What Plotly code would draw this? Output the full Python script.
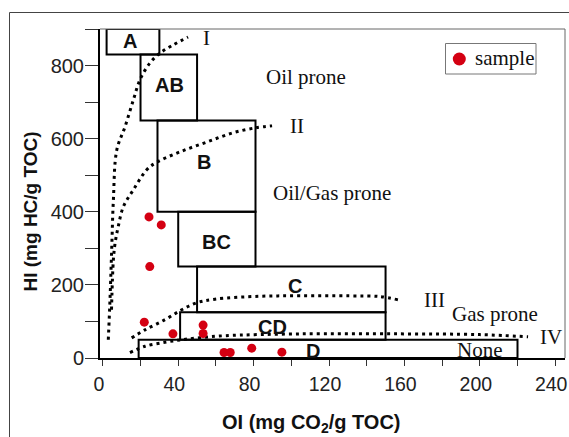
import plotly.graph_objects as go

# ---------------- data ----------------
# Kerogen-type boxes (OI range x0-x1, HI range y0-y1)
box_names = ["A", "AB", "B", "BC", "C", "CD", "D"]
box_x0 = [2, 20, 29, 40, 50, 41, 19]
box_x1 = [30, 50, 81, 81, 150, 150, 220]
box_y0 = [830, 650, 400, 250, 125, 50, 0]
box_y1 = [900, 830, 650, 400, 250, 125, 50]
box_lbl_x = [14.5, 35.5, 53.7, 60.4, 102, 90, 111.7]
box_lbl_y = [867, 747, 535, 316, 196, 86, 18]

# Kerogen evolution curves (dotted)
curve_I_x = [2.9, 3.8, 4.7, 5.6, 7.4, 11.8, 16.2, 19.7, 25, 30.3, 37.2, 45.2]
curve_I_y = [50, 159, 296, 432, 569, 633, 706, 761, 807, 834, 856, 878]
curve_II_x = [4.6, 5.6, 6.5, 8.2, 10.9, 16.2, 23.3, 28.8, 41, 55.3, 69, 81.3, 89.8]
curve_II_y = [132, 269, 314, 360, 414, 460, 515, 536, 564, 591, 616, 630, 635]
curve_III_x = [15.3, 22.4, 33, 41.9, 49.8, 59.5, 83.4, 104.6, 131, 147, 156.6]
curve_III_y = [55, 77, 105, 132, 151, 161, 169, 170, 170, 168, 159]
curve_IV_x = [14.4, 22.4, 33, 41.9, 52.5, 64.8, 104.6, 157.7, 200, 225.6]
curve_IV_y = [15, 32, 43, 50, 56, 61, 66, 66, 64, 58]

# Samples
sample_oi = [24.5, 31, 24.9, 22, 37.2, 53.2, 53.2, 64.3, 67.6, 79, 95]
sample_hi = [386, 364, 250, 98, 66, 90, 67, 15, 15, 27, 16]
legend_name = "sample"

# Text labels
roman_txt = ["I", "II", "III", "IV"]
roman_x = [55, 103, 175.9, 237.6]
roman_y = [875, 635, 159, 57]
zone_txt = ["Oil prone", "Oil/Gas prone", "Gas prone", "None"]
zone_x = [107.8, 121.7, 208, 200]
zone_y = [769, 451, 120, 23]

x_tickvals = list(range(0, 241, 40))
y_tickvals = list(range(0, 801, 200))

# ---------------- figure ----------------
SANS = "Liberation Sans, Arial, sans-serif"
SERIF = "Liberation Serif, Times New Roman, serif"
RED = "#d40012"
W, H = 569, 437
ML, MT, PW, PH = 100, 29, 465, 329


def px_x(p):
    return (p - ML) / PW


def px_y(p):
    return (MT + PH - p) / PH


fig = go.Figure()

for cx, cy in [(curve_I_x, curve_I_y), (curve_II_x, curve_II_y),
               (curve_III_x, curve_III_y), (curve_IV_x, curve_IV_y)]:
    fig.add_trace(go.Scatter(x=cx, y=cy, mode="lines", showlegend=False,
                             line=dict(color="black", width=3, dash="3px,4px", shape="spline"),
                             hoverinfo="skip"))

fig.add_trace(go.Scatter(x=sample_oi, y=sample_hi, mode="markers", name=legend_name,
                         showlegend=False,
                         marker=dict(color=RED, size=9)))

for i, n in enumerate(box_names):
    fig.add_shape(type="rect", xref="x", yref="y",
                  x0=box_x0[i], x1=box_x1[i], y0=box_y0[i], y1=box_y1[i],
                  line=dict(color="black", width=2), fillcolor="rgba(0,0,0,0)")
    fig.add_annotation(x=box_lbl_x[i], y=box_lbl_y[i], text=n, showarrow=False,
                       font=dict(family=SANS, size=20, color="#111", weight="bold"))

for t, x, y in zip(roman_txt, roman_x, roman_y):
    fig.add_annotation(x=x, y=y, text=t, showarrow=False,
                       font=dict(family=SERIF, size=21, color="#111"))
for t, x, y in zip(zone_txt, zone_x, zone_y):
    fig.add_annotation(x=x, y=y, text=t, showarrow=False,
                       font=dict(family=SERIF, size=21, color="#111"))

# axis titles
fig.add_annotation(xref="paper", yref="paper", x=px_x(30), y=px_y(211.5),
                   text="HI (mg HC/g TOC)", textangle=-90, showarrow=False,
                   xanchor="center", yanchor="middle",
                   font=dict(family=SANS, size=19, color="#111", weight="bold"))
fig.add_annotation(xref="paper", yref="paper", x=px_x(311), y=px_y(423),
                   text="OI (mg CO<sub>2</sub>/g TOC)", showarrow=False,
                   xanchor="center", yanchor="middle",
                   font=dict(family=SANS, size=20, color="#111", weight="bold"))

# legend box (drawn manually to match the reference)
fig.add_shape(type="rect", xref="paper", yref="paper",
              x0=px_x(445.5), x1=px_x(536), y0=px_y(74), y1=px_y(43.5),
              line=dict(color="#777", width=1), fillcolor="white")
fig.add_shape(type="circle", xref="paper", yref="paper",
              xsizemode="pixel", ysizemode="pixel",
              xanchor=px_x(459.3), yanchor=px_y(59),
              x0=-6.5, x1=6.5, y0=-6.5, y1=6.5,
              line=dict(color=RED, width=0), fillcolor=RED)
fig.add_annotation(xref="paper", yref="paper", x=px_x(472.5), y=px_y(57.5),
                   text=legend_name, showarrow=False, xanchor="left", yanchor="middle",
                   font=dict(family=SERIF, size=21, color="#111"))

# plot frame (top/right) and outer figure border
fig.add_shape(type="line", xref="paper", yref="paper", x0=0, x1=1, y0=1, y1=1,
              line=dict(color="#666", width=1))
fig.add_shape(type="line", xref="paper", yref="paper", x0=1, x1=1, y0=0, y1=1,
              line=dict(color="#666", width=1))
bx = px_x(9.5)
by = px_y(12.5)
fig.add_shape(type="line", xref="paper", yref="paper", x0=bx, x1=bx, y0=-0.4, y1=by,
              line=dict(color="#444", width=1))
fig.add_shape(type="line", xref="paper", yref="paper", x0=bx, x1=1.2, y0=by, y1=by,
              line=dict(color="#444", width=1))

fig.update_xaxes(range=[-1.5, 245.2], tickvals=x_tickvals, automargin=False,
                 ticks="outside", ticklen=6, tickwidth=1, tickcolor="#333",
                 minor=dict(tick0=0, dtick=20, ticks="outside", ticklen=6, tickwidth=1,
                            tickcolor="#333"),
                 ticklabeloverflow="allow", ticklabelshift=-4, ticklabelstandoff=2,
                 showline=True, linecolor="black", linewidth=2,
                 showgrid=False, zeroline=False,
                 tickfont=dict(family=SANS, size=19.5, color="#222"))
fig.update_yaxes(range=[0, 900], tickvals=y_tickvals, automargin=False,
                 ticks="outside", ticklen=13, tickwidth=1, tickcolor="#333",
                 minor=dict(tick0=0, dtick=100, ticks="outside", ticklen=13, tickwidth=1,
                            tickcolor="#333"),
                 ticklabeloverflow="allow", ticklabelstandoff=-3,
                 showline=True, linecolor="black", linewidth=2,
                 showgrid=False, zeroline=False,
                 tickfont=dict(family=SANS, size=20, color="#222"))

fig.update_layout(
    width=W, height=H,
    margin=dict(l=ML, r=W - ML - PW, t=MT, b=H - MT - PH, autoexpand=False),
    paper_bgcolor="white", plot_bgcolor="white",
    showlegend=False,
)

fig.write_html("out.html")
